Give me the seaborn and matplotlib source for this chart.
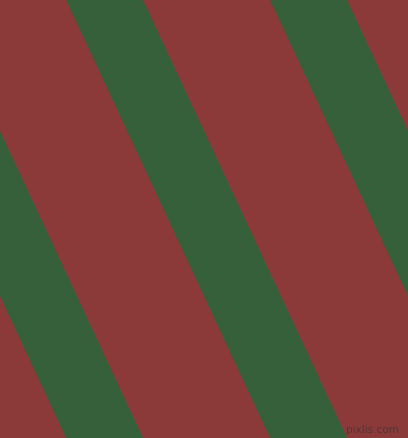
import numpy as np
import matplotlib
matplotlib.use("Agg")
import matplotlib.pyplot as plt
import seaborn as sns

# stripe data: left edge of each green band on the top row, band width,
# and how far the bands drift sideways from top to bottom (all in pixels)
stripe_starts = [-138, 66, 270]
stripe_width = 77
drift = 204
canvas_w, canvas_h = 408, 438

red = "#8c393a"
green = "#36603a"

sns.set_theme(style="white")

fig = plt.figure(figsize=(4.08, 4.38), dpi=100)
ax = fig.add_axes([0, 0, 1, 1])
ax.set_facecolor(red)
fig.patch.set_facecolor(red)

ys = np.array([0, canvas_h])
for x0 in stripe_starts:
    left = x0 + drift * ys / canvas_h
    ax.fill_betweenx(ys, left, left + stripe_width, color=green, linewidth=0)

# small watermark bottom right
ax.text(399, 430, "pixlis.com", ha="right", va="center", fontsize=7.5,
        color="#4e3434", alpha=0.9)

ax.set_xlim(0, canvas_w)
ax.set_ylim(canvas_h, 0)
ax.axis("off")

fig.savefig("out.png", dpi=100, facecolor=red)
